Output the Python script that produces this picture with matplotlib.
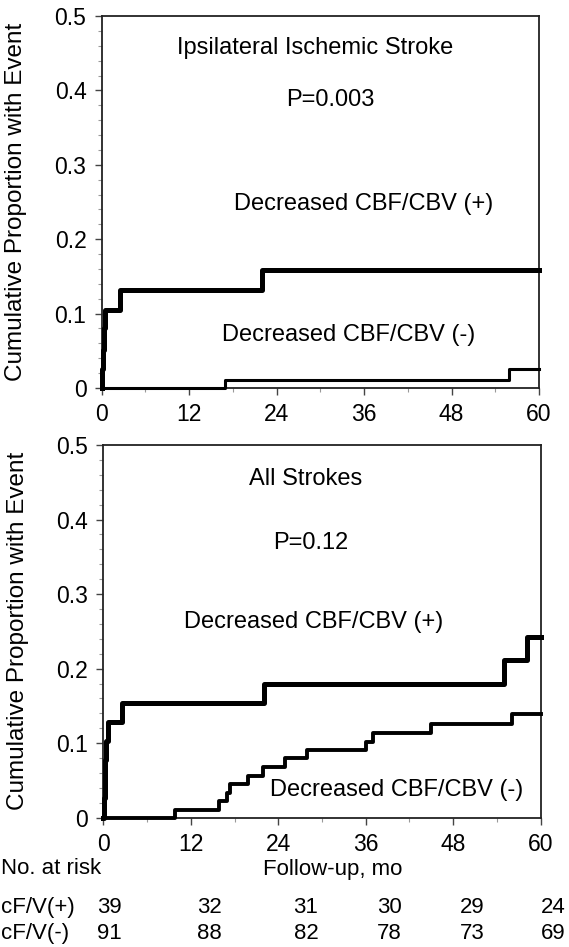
import matplotlib
matplotlib.use('Agg')
import matplotlib.pyplot as plt
from matplotlib.ticker import MultipleLocator

plt.rcParams['font.family'] = ['Liberation Sans', 'DejaVu Sans']

# Kaplan-Meier step data (months, cumulative proportion)
ipsi_pos_t = [0, 0.1, 0.2, 0.3, 0.5, 2.5, 22.0, 60]
ipsi_pos_y = [0, 0.026, 0.051, 0.080, 0.105, 0.132, 0.159, 0.159]
ipsi_neg_t = [0, 16.9, 55.9, 60]
ipsi_neg_y = [0, 0.011, 0.026, 0.026]

all_pos_t = [0, 0.1, 0.2, 0.3, 0.4, 0.6, 2.5, 22.0, 55.0, 58.1, 60]
all_pos_y = [0, 0.026, 0.051, 0.077, 0.103, 0.128, 0.154, 0.179, 0.212, 0.243, 0.243]
all_neg_t = [0, 9.8, 15.9, 16.9, 17.4, 19.9, 21.9, 24.9, 28.0, 36.0, 37.0, 45.0, 56.0, 60]
all_neg_y = [0, 0.011, 0.022, 0.033, 0.045, 0.056, 0.068, 0.080, 0.091, 0.102, 0.114,
             0.126, 0.139, 0.139]

x_ticks = [0, 12, 24, 36, 48, 60]
y_ticks = [0, 0.1, 0.2, 0.3, 0.4, 0.5]
y_tick_labels = ['0', '0.1', '0.2', '0.3', '0.4', '0.5']

risk_groups = ['cF/V(+)', 'cF/V(-)']
risk_pos = [39, 32, 31, 30, 29, 24]
risk_neg = [91, 88, 82, 78, 73, 69]

W, H = 569, 947
fig = plt.figure(figsize=(W / 100, H / 100), dpi=100)


def setup(ax):
    ax.set_xlim(0, 60)
    ax.set_ylim(0, 0.5)
    ax.set_xticks(x_ticks)
    ax.set_xticklabels([str(t) for t in x_ticks])
    ax.set_yticks(y_ticks)
    ax.set_yticklabels(y_tick_labels)
    ax.xaxis.set_minor_locator(MultipleLocator(6))
    ax.yaxis.set_minor_locator(MultipleLocator(0.02))
    ax.tick_params(which='major', length=5, width=1, color='#444444', labelsize=16.5, pad=6)
    ax.tick_params(axis='x', which='major', pad=6)
    ax.tick_params(which='minor', length=3, width=0.8, color='#999999')
    for s in ax.spines.values():
        s.set_linewidth(1.3)
        s.set_color('#222222')
    ax.set_ylabel('Cumulative Proportion with Event', fontsize=17.5)
    ax.yaxis.set_label_coords(-0.17, 0.5)


ax1 = fig.add_axes([101.7 / W, 1 - 388 / H, 437.3 / W, 372 / H])
setup(ax1)
ax1.step(ipsi_pos_t, ipsi_pos_y, where='post', color='black', lw=3.6, clip_on=False, zorder=3)
ax1.step(ipsi_neg_t, ipsi_neg_y, where='post', color='black', lw=2.2, clip_on=False, zorder=3)
ax1.text(29.3, 0.457, 'Ipsilateral Ischemic Stroke', fontsize=17, ha='center', va='center')
ax1.text(31.3, 0.387, 'P=0.003', fontsize=17, ha='center', va='center')
ax1.text(35.9, 0.247, 'Decreased CBF/CBV (+)', fontsize=17, ha='center', va='center')
ax1.text(33.9, 0.071, 'Decreased CBF/CBV (-)', fontsize=17, ha='center', va='center')

ax2 = fig.add_axes([103.3 / W, 1 - 817.7 / H, 437.4 / W, 372.7 / H])
setup(ax2)
ax2.step(all_pos_t, all_pos_y, where='post', color='black', lw=3.6, clip_on=False, zorder=3)
ax2.step(all_neg_t, all_neg_y, where='post', color='black', lw=2.8, clip_on=False, zorder=3)
ax2.text(27.8, 0.455, 'All Strokes', fontsize=17, ha='center', va='center')
ax2.text(28.4, 0.368, 'P=0.12', fontsize=17, ha='center', va='center')
ax2.text(28.9, 0.263, 'Decreased CBF/CBV (+)', fontsize=17, ha='center', va='center')
ax2.text(40.3, 0.037, 'Decreased CBF/CBV (-)', fontsize=17, ha='center', va='center')

# number-at-risk table below the lower panel
fig.text(1 / W, 1 - 869 / H, 'No. at risk', fontsize=16, ha='left', va='center')
fig.text(333 / W, 1 - 869 / H, 'Follow-up, mo', fontsize=16, ha='center', va='center')
col_x = [109, 209, 306, 389, 472, 553]
row_y = [907, 933]
for row, vals, name in zip(row_y, [risk_pos, risk_neg], risk_groups):
    fig.text(1 / W, 1 - row / H, name, fontsize=16, ha='left', va='center')
    for cx, v in zip(col_x, vals):
        fig.text(cx / W, 1 - row / H, str(v), fontsize=16, ha='center', va='center')

fig.savefig('out.png', dpi=100)
